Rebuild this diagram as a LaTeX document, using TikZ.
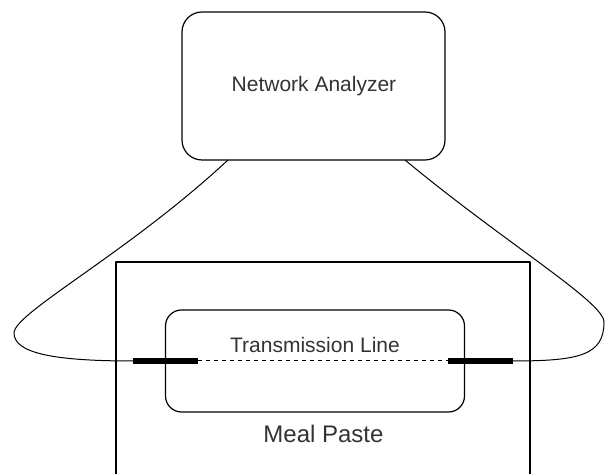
\documentclass[tikz,border=0pt]{standalone}
\usepackage{fontspec}
\setmainfont{Liberation Sans}
\tikzset{
  every picture/.style={line join=round, line cap=round},
  frame/.style={line width=0.6pt},
  roundbox/.style={draw, frame, inner sep=0pt, rounded corners=#1},
  cable/.style={line width=0.5pt},
  stub/.style={line width=3.2pt, line cap=butt},
  trace/.style={line width=0.5pt, dash pattern=on 2pt off 2pt, line cap=butt},
  lbl/.style={anchor=base, text=black!80, inner sep=0pt},
}

\begin{document}
\begin{tikzpicture}[x=0.5pt, y=-0.5pt]
\useasboundingbox (0,0) rectangle (606,474);

% instrument and the sample under test
\node[roundbox=10pt, minimum width=131.5pt, minimum height=74pt] (na) at (313.5,86) {};
\node[lbl, font=\fontsize{10.5}{12}\selectfont] (naText) at (314,92) {Network Analyzer};
\draw[frame] (116,474) -- (116,262) -- (530,262) -- (530,474);
\node[roundbox=8pt, minimum width=149.5pt, minimum height=51pt] (tl) at (315,361) {};
\node[lbl, font=\fontsize{10.5}{12}\selectfont] (tlText) at (315,353) {Transmission Line};
\node[lbl, font=\fontsize{12}{14}\selectfont] (paste) at (323.5,443) {Meal Paste};

% probe ends
\coordinate (pl1) at (133,361);
\coordinate (pl2) at (198,361);
\coordinate (pr1) at (448,361);
\coordinate (pr2) at (513,361);
\coordinate (outL) at (228,160);
\coordinate (outR) at (405,160);

\draw[trace] (pl2) -- (pr1);
\draw[stub] (pl1) -- (pl2);
\draw[stub] (pr1) -- (pr2);

% cables
\draw[cable] (outL) .. controls (128,253) and (14,313) .. (14,333)
  .. controls (14,353) and (53,361) .. (pl1);
\draw[cable] (outR) .. controls (505,243) and (604,302) .. (604,322)
  .. controls (604,355) and (580,361) .. (pr2);
\end{tikzpicture}
\end{document}
